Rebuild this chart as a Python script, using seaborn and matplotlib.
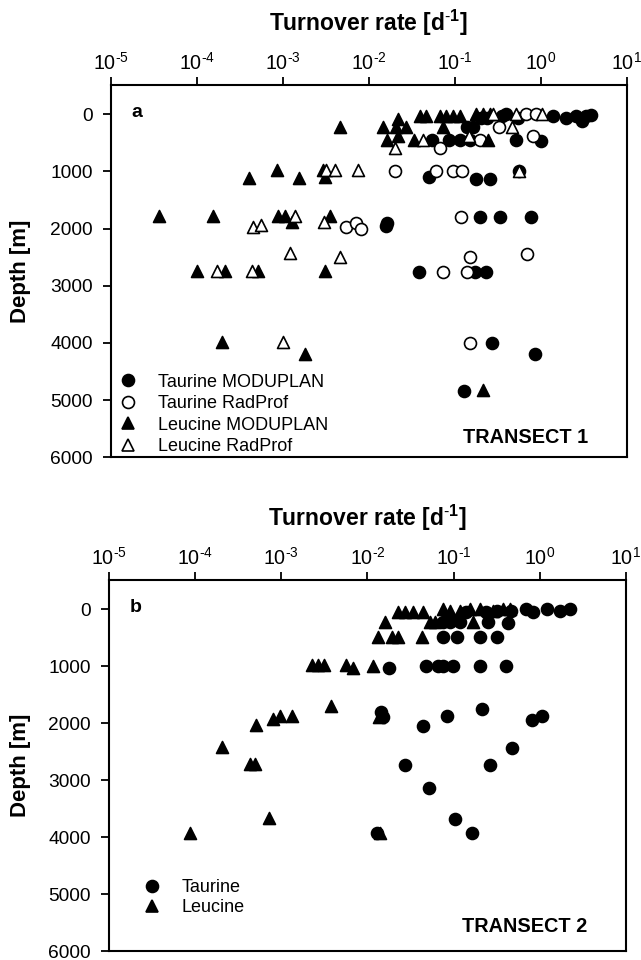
import numpy as np
import pandas as pd
import matplotlib
matplotlib.use("Agg")
import matplotlib.pyplot as plt
import matplotlib.ticker as mticker
from matplotlib.lines import Line2D
import seaborn as sns

# ---------------- data : Transect 1 (panel a) ----------------
t1_taurine_mod_rate = [0.20, 0.24, 0.36, 0.40, 0.55, 1.38, 2.0, 2.6, 3.4, 3.9, 3.0,
                       0.138, 0.162,
                       0.054, 0.087, 0.115, 0.149, 0.52, 1.02,
                       0.050, 0.179, 0.255, 0.56,
                       0.0161, 0.0158, 0.199, 0.34, 0.78,
                       0.038, 0.171, 0.229,
                       0.27, 0.87, 0.13]
t1_taurine_mod_depth = [60, 60, 40, 0, 60, 40, 60, 40, 40, 20, 120,
                        220, 220,
                        460, 460, 460, 460, 460, 470,
                        1090, 1140, 1140, 1000,
                        1910, 1950, 1800, 1800, 1800,
                        2760, 2760, 2760,
                        4000, 4200, 4840]

t1_taurine_rad_rate = [0.68, 0.89, 0.33, 0.067, 0.195, 0.81,
                       0.020, 0.061, 0.095, 0.123,
                       0.120,
                       0.0055, 0.0072, 0.0082,
                       0.073, 0.139, 0.149, 0.70,
                       0.149]
t1_taurine_rad_depth = [0, 0, 220, 600, 460, 390,
                        1000, 1000, 1000, 1000,
                        1800,
                        1970, 1910, 2000,
                        2760, 2760, 2500, 2450,
                        4000]

t1_leucine_mod_rate = [0.178, 0.214, 0.257, 0.039, 0.047, 0.068, 0.079, 0.095, 0.115,
                       0.0147, 0.0219, 0.021, 0.0274, 0.073,
                       0.0161, 0.0219, 0.034, 0.244,
                       0.0046, 0.00085, 0.00040, 0.00155, 0.0029, 0.0031,
                       0.000036, 0.000155, 0.00088, 0.00105, 0.00129, 0.00355,
                       0.000100, 0.00021, 0.00051, 0.0031,
                       0.000195, 0.0018, 0.213]
t1_leucine_mod_depth = [0, 0, 0, 40, 40, 40, 40, 40, 40,
                        217, 80, 217, 220, 220,
                        460, 390, 460, 460,
                        230, 980, 1120, 1120, 980, 1090,
                        1780, 1780, 1780, 1780, 1880, 1780,
                        2740, 2740, 2740, 2740,
                        3990, 4190, 4820]

t1_leucine_rad_rate = [0.28, 0.52, 1.05, 0.46,
                       0.043, 0.148, 0.020,
                       0.0032, 0.0041, 0.0075, 0.56,
                       0.00138, 0.0030, 0.00045, 0.00055,
                       0.000172, 0.00044, 0.0012, 0.0046,
                       0.00101]
t1_leucine_rad_depth = [0, 0, 0, 220,
                        460, 390, 600,
                        980, 980, 980, 1000,
                        1780, 1880, 1970, 1940,
                        2740, 2740, 2430, 2490,
                        3990]

# ---------------- data : Transect 2 (panel b) ----------------
t2_taurine_rate = [0.70, 0.84, 1.20, 1.71, 2.23, 0.14, 0.24, 0.32, 0.46,
                   0.0755, 0.090, 0.118, 0.251, 0.43,
                   0.0755, 0.108, 0.201, 0.316,
                   0.0179, 0.048, 0.066, 0.076, 0.099, 0.201, 0.41,
                   0.0145, 0.0150, 0.044, 0.083, 0.211, 0.82, 1.07,
                   0.47, 0.0272, 0.263, 0.0515, 0.103, 0.164, 0.0128]
t2_taurine_depth = [0, 60, 0, 30, 0, 60, 50, 40, 40,
                    222, 222, 222, 222, 250,
                    484, 484, 484, 484,
                    1037, 1000, 1000, 1000, 1000, 1000, 1000,
                    1800, 1900, 2045, 1883, 1748, 1940, 1883,
                    2436, 2739, 2739, 3135, 3689, 3934, 3934]

t2_leucine_rate = [0.0227, 0.0272, 0.0339, 0.0443, 0.0755, 0.090, 0.118, 0.154,
                   0.201, 0.287, 0.375, 0.449,
                   0.0159, 0.053, 0.061, 0.168,
                   0.0133, 0.0191, 0.0227, 0.0425,
                   0.0116,
                   0.00225, 0.00269, 0.0031, 0.0057, 0.0068,
                   0.00373, 0.000507, 0.00079, 0.00096, 0.00134,
                   0.000206, 0.000433, 0.000494, 0.000718, 0.000087,
                   0.0138, 0.0136]
t2_leucine_depth = [50, 50, 50, 50, 0, 30, 30, 0,
                    0, 30, 0, 0,
                    222, 222, 222, 222,
                    484, 484, 484, 484,
                    997,
                    979, 979, 979, 979, 1037,
                    1708, 2028, 1928, 1882, 1871,
                    2418, 2710, 2710, 3659, 3922,
                    3934, 1900]

# ---------------- labels ----------------
x_ticks = [1e-5, 1e-4, 1e-3, 1e-2, 1e-1, 1e0, 1e1]
x_tick_labels = [r"$\mathregular{10^{\text{-}5}}$", r"$\mathregular{10^{\text{-}4}}$",
                 r"$\mathregular{10^{\text{-}3}}$", r"$\mathregular{10^{\text{-}2}}$",
                 r"$\mathregular{10^{\text{-}1}}$", r"$\mathregular{10^{0}}$",
                 r"$\mathregular{10^{1}}$"]
depth_ticks = [0, 1000, 2000, 3000, 4000, 5000, 6000]
depth_tick_labels = ["0", "1000", "2000", "3000", "4000", "5000", "6000"]
x_title = r"Turnover rate [d$^{\text{-}\mathregular{1}}$]"
y_title = "Depth [m]"

labels_a = ["Taurine MODUPLAN", "Taurine RadProf", "Leucine MODUPLAN", "Leucine RadProf"]
labels_b = ["Taurine", "Leucine"]

# ---------------- style ----------------
sns.set_style("ticks")
plt.rcParams["font.family"] = ["Liberation Sans", "DejaVu Sans"]
plt.rcParams["mathtext.fontset"] = "custom"
plt.rcParams["mathtext.rm"] = "Liberation Sans"
plt.rcParams["mathtext.it"] = "Liberation Sans:italic"
plt.rcParams["mathtext.bf"] = "Liberation Sans:bold"
plt.rcParams["axes.edgecolor"] = "black"
plt.rcParams["text.color"] = "black"
plt.rcParams["axes.labelcolor"] = "black"
plt.rcParams["xtick.color"] = "black"
plt.rcParams["ytick.color"] = "black"

MS = 74
FIG_H = 960
fig = plt.figure(figsize=(6.41, 9.6), dpi=100)
ax_a = fig.add_axes([111 / 641, 1 - 457.3 / FIG_H, 515.5 / 641, 372.3 / FIG_H])
ax_b = fig.add_axes([109 / 641, 1 - 951 / FIG_H, 517 / 641, 371 / FIG_H])
ax_left_px = {id(ax_a): 111, id(ax_b): 109}


def draw_series(ax, rate, depth, marker, face):
    df = pd.DataFrame({"rate": rate, "depth": depth})
    sns.scatterplot(data=df, x="rate", y="depth", ax=ax, marker=marker, s=MS,
                    color=face, edgecolor="black", linewidth=1.2, legend=False,
                    zorder=3, clip_on=False)


def style_axes(ax, w_px, h_px):
    ax.set_xscale("log")
    ax.set_xlim(1e-5, 1e1)
    ax.set_ylim(6000, -510)
    ax.xaxis.set_major_locator(mticker.FixedLocator(x_ticks))
    ax.xaxis.set_minor_locator(mticker.NullLocator())
    ax.set_xticklabels(x_tick_labels)
    ax.set_yticks(depth_ticks)
    ax.set_yticklabels(depth_tick_labels)
    ax.tick_params(axis="x", which="major", top=True, bottom=False, labeltop=True,
                   labelbottom=False, direction="out", length=6, width=1.3,
                   labelsize=14.2, pad=5, colors="black")
    ax.tick_params(axis="y", which="major", left=True, right=False, direction="out",
                   length=6, width=1.3, labelsize=13.8, pad=7, colors="black")
    for lbl in ax.get_xticklabels():
        lbl.set_verticalalignment("baseline")
    for sp in ax.spines.values():
        sp.set_visible(True)
        sp.set_linewidth(1.5)
        sp.set_color("black")
    ax.set_xlabel(x_title, fontsize=16.5, fontweight="bold", color="black")
    ax.xaxis.set_label_position("top")
    ax.xaxis.label.set_verticalalignment("baseline")
    ax.xaxis.set_label_coords(0.5, 1 + 54 / h_px)
    ax.set_ylabel(y_title, fontsize=16, fontweight="bold", color="black")
    ax.yaxis.label.set_verticalalignment("center")
    ax.yaxis.set_label_coords(-(ax_left_px[id(ax)] - 21) / w_px, 0.5)


# panel a
draw_series(ax_a, t1_taurine_mod_rate, t1_taurine_mod_depth, "o", "black")
draw_series(ax_a, t1_taurine_rad_rate, t1_taurine_rad_depth, "o", "white")
draw_series(ax_a, t1_leucine_mod_rate, t1_leucine_mod_depth, "^", "black")
draw_series(ax_a, t1_leucine_rad_rate, t1_leucine_rad_depth, "^", "white")
style_axes(ax_a, 515.5, 372.3)
ax_a.text(0.039, 0.925, "a", transform=ax_a.transAxes, fontsize=14, fontweight="bold",
          ha="left", va="center", color="black")
ax_a.text(0.925, 0.0545, "TRANSECT 1", transform=ax_a.transAxes, fontsize=14.3,
          fontweight="bold", ha="right", va="center", color="black")


def handle(marker, face):
    return Line2D([], [], marker=marker, linestyle="none", markersize=8.6,
                  markerfacecolor=face, markeredgecolor="black", markeredgewidth=1.2)


handles_a = [handle("o", "black"), handle("o", "white"), handle("^", "black"), handle("^", "white")]
ax_a.legend(handles_a, labels_a, loc="lower left", bbox_to_anchor=(0.0155, 0.006),
            frameon=False, fontsize=13, handlelength=1.0, handletextpad=1.17,
            labelspacing=0.25, borderpad=0, borderaxespad=0, labelcolor="black")

# panel b
draw_series(ax_b, t2_leucine_rate, t2_leucine_depth, "^", "black")
draw_series(ax_b, t2_taurine_rate, t2_taurine_depth, "o", "black")
style_axes(ax_b, 517, 371)
ax_b.text(0.0406, 0.927, "b", transform=ax_b.transAxes, fontsize=14, fontweight="bold",
          ha="left", va="center", color="black")
ax_b.text(0.9246, 0.0647, "TRANSECT 2", transform=ax_b.transAxes, fontsize=14.3,
          fontweight="bold", ha="right", va="center", color="black")
handles_b = [handle("o", "black"), handle("^", "black")]
ax_b.legend(handles_b, labels_b, loc="lower left", bbox_to_anchor=(0.065, 0.094),
            frameon=False, fontsize=13, handlelength=1.0, handletextpad=1.17,
            labelspacing=0.15, borderpad=0, borderaxespad=0, labelcolor="black")

fig.savefig("out.png", dpi=100)
